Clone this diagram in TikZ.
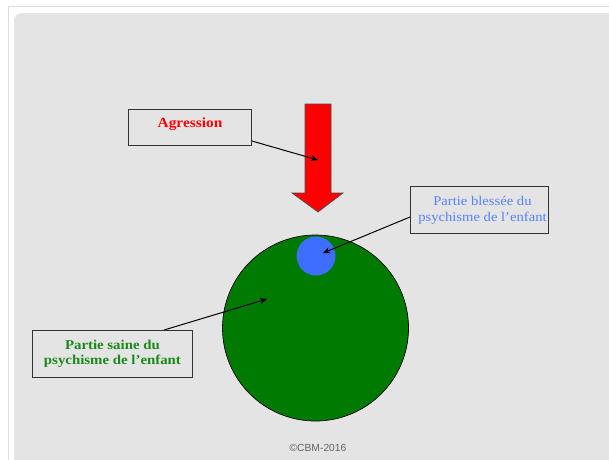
\documentclass[tikz,border=0pt]{standalone}
\usepackage{fontspec}
\setmainfont{Liberation Serif}[FakeStretch=1.1]
\newfontfamily\cbmfont{Liberation Sans}
\usetikzlibrary{arrows.meta}
\definecolor{panelgray}{HTML}{E4E4E4}
\definecolor{bordergray}{HTML}{DDDDDD}
\definecolor{arrowred}{HTML}{FF0000}
\definecolor{bigGreen}{HTML}{007A00}
\definecolor{woundBlue}{HTML}{3D6EFF}
\definecolor{txtBlue}{HTML}{5582FF}
\definecolor{txtGreen}{HTML}{1A8A1A}
\definecolor{copyGray}{HTML}{666666}
\tikzset{
  labelbox/.style={draw=black!80, line width=0.9pt, fill=panelgray, align=center, inner sep=0pt, font=\fontsize{13.3}{16}\selectfont},
  pointer/.style={draw=black, line width=1pt, -{Stealth[length=7pt,width=6pt]}},
}
\begin{document}
\begin{tikzpicture}[x=1pt,y=-1pt]
\useasboundingbox (0,0) rectangle (609,459);
\fill[white] (0,0) rectangle (609,459);
\draw[bordergray, line width=0.8pt] (8,470) -- (8,6) -- (620,6);
\fill[panelgray, rounded corners=8pt] (14,470) -- (14,13) -- (620,13) -- (620,470) -- cycle;
% red arrow
\fill[arrowred] (305,104) -- (331,104) -- (331,193) -- (343,193) -- (318,212) -- (292,193) -- (305,193) -- cycle;
\draw[black!70, line width=0.6pt] (305,104) -- (331,104) -- (331,193) -- (343,193) -- (318,212) -- (292,193) -- (305,193) -- cycle;
\coordinate (redarrow) at (318,160);
% circles
\node[circle, minimum size=186pt, inner sep=0pt, fill=bigGreen, draw=black, line width=0.7pt] (sane) at (315.5,328) {};
\node[circle, minimum size=39pt, inner sep=0pt, fill=woundBlue] (wound) at (316,256) {};
\coordinate (saneTip) at (267,299);
\coordinate (woundTip) at (323,253);
% labels
\node[labelbox, minimum width=123pt, minimum height=36pt, anchor=north west] (agr) at (128,109) {};
\node[text=arrowred, font=\bfseries\fontsize{14}{16}\selectfont, inner sep=0pt] (agrtext) at (190,124) {Agression};
\node[labelbox, minimum width=138pt, minimum height=47pt, text=txtBlue, anchor=north west] (bless) at (410,186) {\hspace*{6pt}Partie blessée du\\\hspace*{6pt}psychisme de l’enfant};
\node[labelbox, minimum width=160pt, minimum height=47pt, text=txtGreen, font=\bfseries\fontsize{13.5}{15.5}\selectfont, anchor=north west] (saine) at (32,330) {Partie saine du\\psychisme de l’enfant};
% pointers
\draw[pointer] (agr.east |- 0,141) -- (redarrow);
\draw[pointer] (bless.west |- 0,217) -- (woundTip);
\draw[pointer] (164,330) -- (saneTip);
\node[text=copyGray, font=\cbmfont\fontsize{10.3}{12}\selectfont] (copy) at (318,448) {©CBM-2016};
\end{tikzpicture}
\end{document}
